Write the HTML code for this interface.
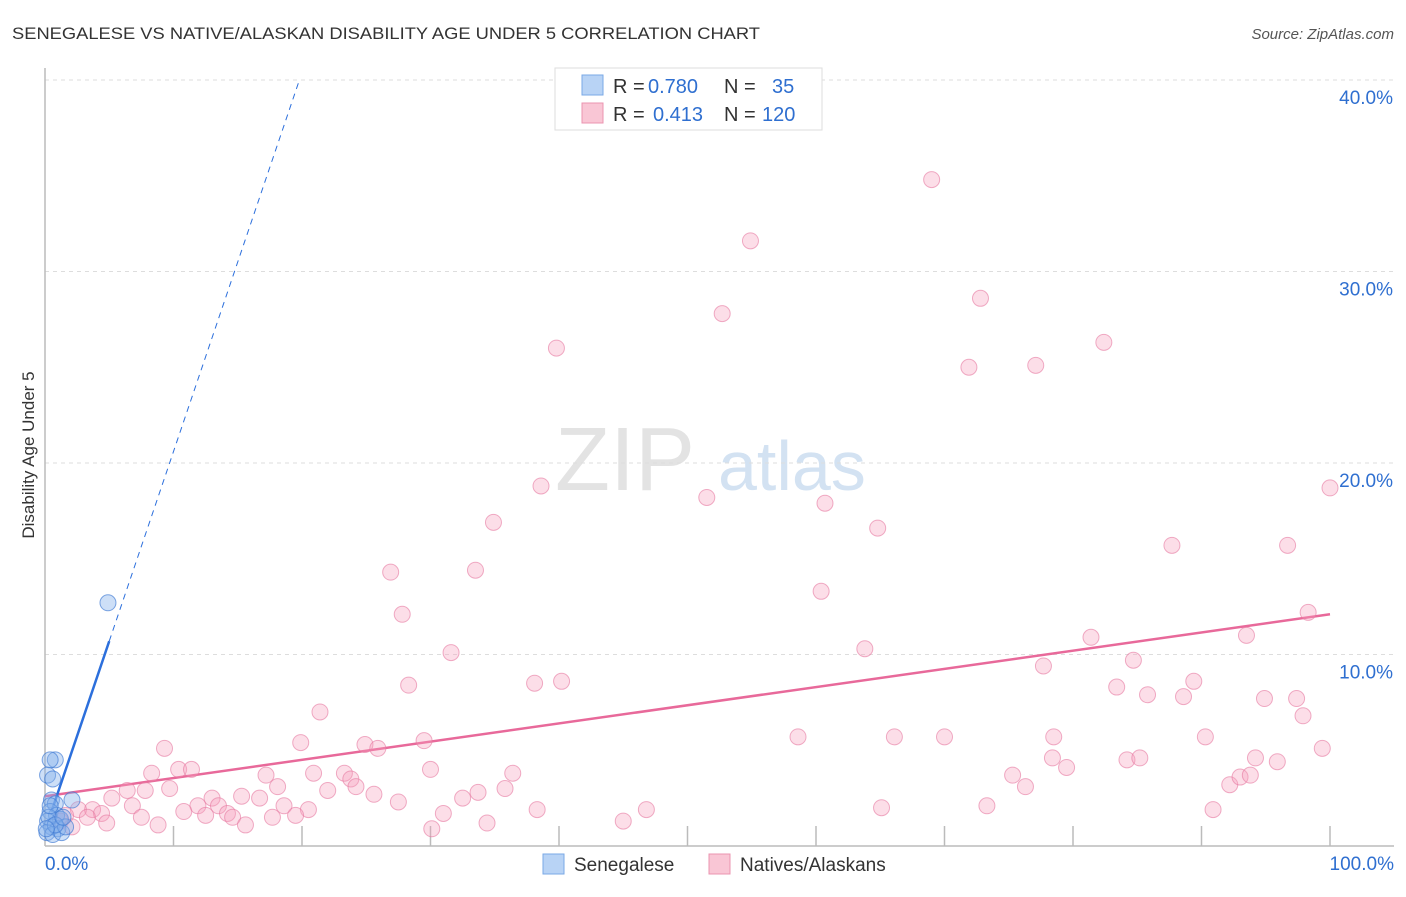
<!DOCTYPE html>
<html><head><meta charset="utf-8"><style>
body{margin:0;background:#fff;font-family:"Liberation Sans",sans-serif}
svg text{font-family:"Liberation Sans",sans-serif}
</style></head><body>
<svg id="c" width="1406" height="892">
<text x="12" y="39" font-size="17" fill="#333" textLength="748" lengthAdjust="spacingAndGlyphs">SENEGALESE VS NATIVE/ALASKAN DISABILITY AGE UNDER 5 CORRELATION CHART</text>
<text x="1394" y="39" font-size="15" fill="#555" font-style="italic" text-anchor="end">Source: ZipAtlas.com</text>
<text x="34" y="455" font-size="17" fill="#333" transform="rotate(-90 34 455)" text-anchor="middle">Disability Age Under 5</text>
<g><text x="555" y="490" font-size="90" fill="#ddd" font-family="Liberation Serif" opacity="0.8">ZIP</text><text x="718" y="490" font-size="70" fill="#c9dcf0" opacity="0.8">atlas</text></g>
<g id="grid"></g><g id="trend"></g><g id="pts"></g>
<g>
<rect x="555" y="68" width="267" height="62" fill="#fff" stroke="#ddd"/>
<rect x="582" y="75" width="21" height="20" fill="#b8d3f5" stroke="#7aa8e6"/>
<rect x="582" y="103" width="21" height="20" fill="#f9c6d5" stroke="#eb94b0"/>
<g font-size="20" fill="#333">
<text x="613" y="93">R =</text><text x="648" y="93" fill="#2f6fd0">0.780</text><text x="724" y="93">N =</text><text x="772" y="93" fill="#2f6fd0">35</text>
<text x="613" y="121">R =</text><text x="653" y="121" fill="#2f6fd0">0.413</text><text x="724" y="121">N =</text><text x="762" y="121" fill="#2f6fd0">120</text>
</g>
</g>
<g>
<rect x="543" y="854" width="21" height="20" fill="#b8d3f5" stroke="#7aa8e6"/>
<text x="574" y="871" font-size="19" fill="#333">Senegalese</text>
<rect x="709" y="854" width="21" height="20" fill="#f9c6d5" stroke="#eb94b0"/>
<text x="740" y="871" font-size="19" fill="#333">Natives/Alaskans</text>
</g>
</svg>
<script>
const yTicks=[10,20,30,40];
const yTickLabels=["10.0%","20.0%","30.0%","40.0%"];
const xEndLabels=["0.0%","100.0%"];
const blueX=[4.9,0.8,0.4,0.2,0.6,0.5,2.1,0.8,0.4,0.9,1.2,0.2,0.5,1.0,0.15,0.6,1.3,1.6,0.3,0.8,1.4,0.4,0.1];
const blueY=[12.7,4.5,4.5,3.7,3.5,2.4,2.4,2.2,1.8,1.6,1.4,1.3,1.0,0.9,0.7,0.6,0.7,1.0,1.5,1.1,1.5,2.1,0.9];
const pinkX=[69.0,54.9,72.8,52.7,39.8,82.4,71.9,77.1,38.6,51.5,60.7,100,34.9,64.8,26.9,33.5,87.7,96.7,27.8,60.4,98.3,31.6,63.8,81.4,93.5,28.3,38.1,40.2,77.7,84.7,83.4,85.8,88.6,89.4,94.9,97.4,97.9,21.4,19.9,24.9,25.9,29.5,58.6,66.1,70.0,78.5,90.3,99.4,9.3,78.4,79.5,84.2,85.2,94.2,95.9,8.3,10.4,11.4,17.2,20.9,23.3,23.8,30.0,36.4,75.3,76.3,92.2,93.0,93.8,6.4,7.8,9.7,18.1,22.0,24.2,25.6,32.5,33.7,35.8,5.2,6.8,3.7,13.0,11.9,13.5,15.3,16.7,18.6,20.5,27.5,38.3,46.8,65.1,73.3,90.9,2.6,4.4,10.8,12.5,14.2,14.6,17.7,19.5,7.5,3.3,4.8,8.8,15.6,31.0,34.4,30.1,45.0,1.6,1.2,2.1];
const pinkY=[34.8,31.6,28.6,27.8,26.0,26.3,25.0,25.1,18.8,18.2,17.9,18.7,16.9,16.6,14.3,14.4,15.7,15.7,12.1,13.3,12.2,10.1,10.3,10.9,11.0,8.4,8.5,8.6,9.4,9.7,8.3,7.9,7.8,8.6,7.7,7.7,6.8,7.0,5.4,5.3,5.1,5.5,5.7,5.7,5.7,5.7,5.7,5.1,5.1,4.6,4.1,4.5,4.6,4.6,4.4,3.8,4.0,4.0,3.7,3.8,3.8,3.5,4.0,3.8,3.7,3.1,3.2,3.6,3.7,2.9,2.9,3.0,3.1,2.9,3.1,2.7,2.5,2.8,3.0,2.5,2.1,1.9,2.5,2.1,2.1,2.6,2.5,2.1,1.9,2.3,1.9,1.9,2.0,2.1,1.9,1.9,1.7,1.8,1.6,1.7,1.5,1.5,1.6,1.5,1.5,1.2,1.1,1.1,1.7,1.2,0.9,1.3,1.6,1.3,1.0];
const blueTrend=[0.8,1.98];
const pinkTrend=[2.6,0.095];
const NS="http://www.w3.org/2000/svg";
const X=v=>45+v*12.85, Y=v=>846-v*19.15;
function mk(t,a,p){const e=document.createElementNS(NS,t);for(const k in a)e.setAttribute(k,a[k]);p.appendChild(e);return e;}
const grid=document.getElementById('grid');
yTicks.forEach((t,i)=>{
 const l=mk('line',{x1:45,x2:1394,y1:Y(t),y2:Y(t),stroke:'#ddd','stroke-dasharray':'4,4'},grid);
 
 
 const tx=mk('text',{x:1393,y:Y(t)+24,'font-size':19,fill:'#2f6fd0','text-anchor':'end'},grid);tx.textContent=yTickLabels[i];
 
 
});
const ax=mk('line',{x1:45,x2:45,y1:68,y2:846,stroke:'#bbb','stroke-width':1.5},grid);


const bx=mk('line',{x1:45,x2:1394,y1:846,y2:846,stroke:'#bbb','stroke-width':1.5},grid);


for(let i=1;i<=10;i++){const t=mk('line',{x1:X(i*10),x2:X(i*10),y1:826,y2:846,stroke:'#bbb','stroke-width':1.5},grid);
 
 }
[[0,'start'],[100,'end']].forEach((d,i)=>{const t=mk('text',{x:i?1394:45,y:870,'font-size':19,fill:'#2f6fd0','text-anchor':d[1]},grid);t.textContent=xEndLabels[i];
 
 });
const pts=document.getElementById('pts');
pinkX.forEach((x,i)=>{const c=mk('circle',{cx:X(x),cy:Y(pinkY[i]),r:8,fill:'rgba(245,160,190,0.35)',stroke:'rgba(230,120,160,0.6)','stroke-width':1},pts);
 
 });
blueX.forEach((x,i)=>{const c=mk('circle',{cx:X(x),cy:Y(blueY[i]),r:8,fill:'rgba(130,175,235,0.4)',stroke:'rgba(60,120,210,0.65)','stroke-width':1},pts);
 
 });
const tr=document.getElementById('trend');
const pl=mk('line',{x1:X(0),y1:Y(pinkTrend[0]),x2:X(100),y2:Y(pinkTrend[0]+100*pinkTrend[1]),stroke:'#e8699a','stroke-width':2.5},tr);


const bs=mk('line',{x1:X(0.5),y1:Y(blueTrend[0]+0.5*blueTrend[1]),x2:X(5),y2:Y(blueTrend[0]+5*blueTrend[1]),stroke:'#2c6fdc','stroke-width':2.5},tr);


const bd=mk('line',{x1:X(5),y1:Y(blueTrend[0]+5*blueTrend[1]),x2:X(19.8),y2:Y(blueTrend[0]+19.8*blueTrend[1]),stroke:'#2c6fdc','stroke-width':1,'stroke-dasharray':'6,5'},tr);


</script>
</body></html>
